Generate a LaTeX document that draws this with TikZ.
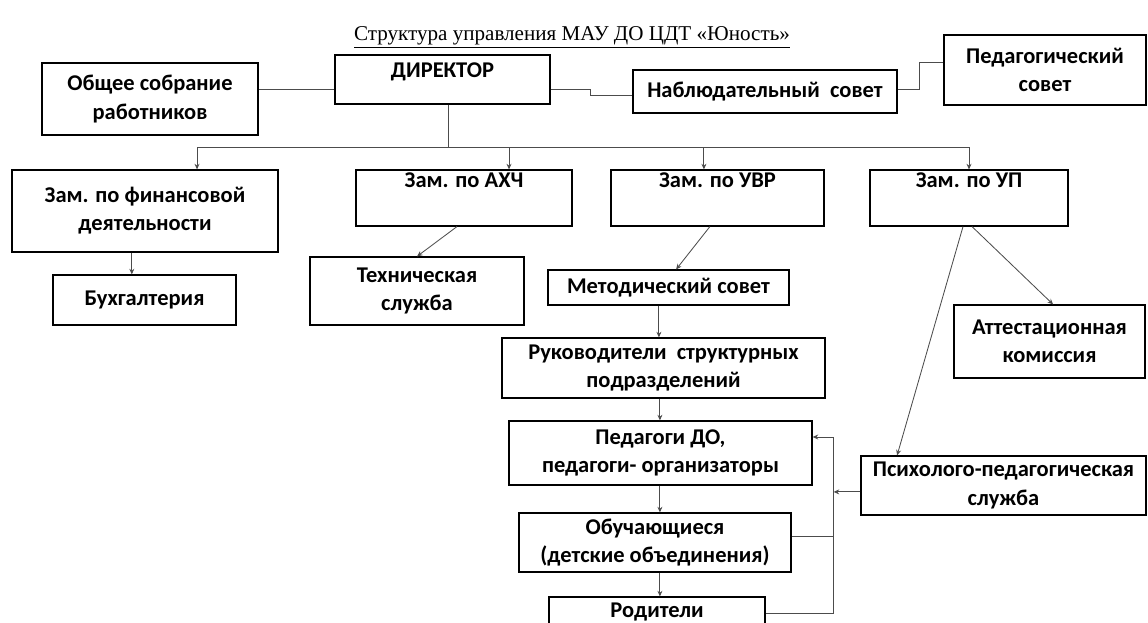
\documentclass[tikz,border=0pt]{standalone}
\usepackage{fontspec}
\setmainfont{Carlito}
\newfontfamily\titlefont{Liberation Serif}
\usetikzlibrary{arrows.meta}
\tikzset{
  box/.style={draw, line width=0.8pt, align=center, inner sep=0pt,
    font=\fontsize{16}{20}\selectfont\bfseries},
  lien/.style={draw=black!70, line width=0.6pt},
  >={Stealth[length=4pt,width=3.5pt]}
}
\begin{document}
\begin{tikzpicture}[x=0.025cm,y=-0.025cm]
\useasboundingbox (0,0) rectangle (1148,623);
%titre
\node[font=\titlefont\fontsize{15}{18}\selectfont] (titre) at (572,37) {\underline{Структура управления МАУ ДО ЦДТ «Юность»}};
%direction
\node[box, minimum width=5.4cm, minimum height=1.8cm] (sobr) at (150,99) {Общее собрание\\работников};
\node[box, minimum width=5.375cm, minimum height=1.225cm, text depth=0.45cm] (dir) at (442.5,79.5) {ДИРЕКТОР};
\node[box, minimum width=6.6cm, minimum height=1.075cm] (nab) at (765,91.5) {Наблюдательный\ \ совет};
\node[box, minimum width=5.05cm, minimum height=1.75cm] (ped) at (1045,70) {Педагогический\\совет};
%zams
\node[box, minimum width=6.65cm, minimum height=2.05cm] (fin) at (145,211) {Зам. по финансовой\\деятельности};
\node[box, minimum width=5.4cm, minimum height=1.4cm] (axch) at (464,198) {Зам. по АХЧ\\\strut};
\node[box, minimum width=5.325cm, minimum height=1.4cm] (uvr) at (717.5,198) {Зам. по УВР\\\strut};
\node[box, minimum width=4.95cm, minimum height=1.4cm] (up) at (969,198) {Зам. по УП\\\strut};
%services
\node[box, minimum width=4.575cm, minimum height=1.25cm] (buh) at (144.5,300) {Бухгалтерия};
\node[box, minimum width=5.35cm, minimum height=1.7cm] (teh) at (417,291) {Техническая\\служба};
\node[box, minimum width=6.025cm, minimum height=0.875cm] (met) at (668.5,287.5) {Методический совет};
\node[box, minimum width=8.075cm, minimum height=1.5cm] (ruk) at (663.5,368) {Руководители\ \ структурных\\подразделений};
\node[box, minimum width=7.575cm, minimum height=1.6cm] (pedo) at (660.5,453) {Педагоги ДО,\\педагоги- организаторы};
\node[box, minimum width=6.8cm, minimum height=1.475cm] (obu) at (655,542.5) {Обучающиеся\\(детские объединения)};
\node[box, minimum width=5.4cm, minimum height=0.75cm] (rod) at (657,612) {Родители};
\node[box, minimum width=4.775cm, minimum height=1.825cm] (atte) at (1049.5,341.5) {Аттестационная\\комиссия};
\node[box, minimum width=7.125cm, minimum height=1.475cm] (psi) at (1003.5,485.5) {Психолого-педагогическая\\служба};
%liens du haut
\draw[lien] ([yshift=-0.26cm]dir.west) coordinate (d1) -- (d1 -| sobr.east);
\draw[lien] ([yshift=-0.26cm]dir.east) -- ++(40,0) |- ([yshift=-0.11cm]nab.west);
\draw[lien] ([yshift=0.04cm]nab.east) -- ++(22,0) |- ([yshift=0.18cm]ped.west);
%vers les zams
\draw[lien] ([xshift=0.14cm]dir.south) -- ++(0,43) coordinate (bus);
\draw[lien,->] (bus) -| ([xshift=1.3cm]fin.north);
\draw[lien,->] (bus) -| ([xshift=1.125cm]axch.north);
\draw[lien,->] (bus) -| ([xshift=-0.34cm]uvr.north);
\draw[lien,->] (bus) -| (up.north);
%sous les zams
\draw[lien,->] ([xshift=-0.33cm]fin.south) -- ([xshift=-0.33cm]fin.south |- buh.north);
\draw[lien,->] ([xshift=-0.175cm]axch.south) -- (teh.north);
\draw[lien,->] ([xshift=-0.19cm]uvr.south) -- ([xshift=0.19cm]met.north);
\draw[lien,->] ([xshift=-0.24cm]met.south) -- ([xshift=-0.24cm]met.south |- ruk.north);
\draw[lien,->] ([xshift=-0.09cm]ruk.south) -- ([xshift=-0.09cm]ruk.south |- pedo.north);
\draw[lien,->] ([xshift=-0.09cm]ruk.south |- pedo.south) -- ([xshift=-0.09cm]ruk.south |- obu.north);
\draw[lien,->] ([xshift=-0.09cm]ruk.south |- obu.south) -- ([xshift=-0.09cm]ruk.south |- rod.north);
\draw[lien,->] ([xshift=0.075cm]up.south) -- ([xshift=0.09cm]atte.north);
\draw[lien,->] ([xshift=-0.15cm]up.south) -- ([xshift=-2.66cm]psi.north);
%retour a droite
\draw[lien,->] ([yshift=-0.03cm]rod.east) -- ++(68,0) coordinate (rb) |- ([yshift=0.4cm]pedo.east);
\draw[lien] ([yshift=0.14cm]obu.east) coordinate (o1) -- (o1 -| rb);
\draw[lien,->] ([yshift=-0.16cm]psi.west) coordinate (p1) -- (p1 -| rb);
\end{tikzpicture}
\end{document}
